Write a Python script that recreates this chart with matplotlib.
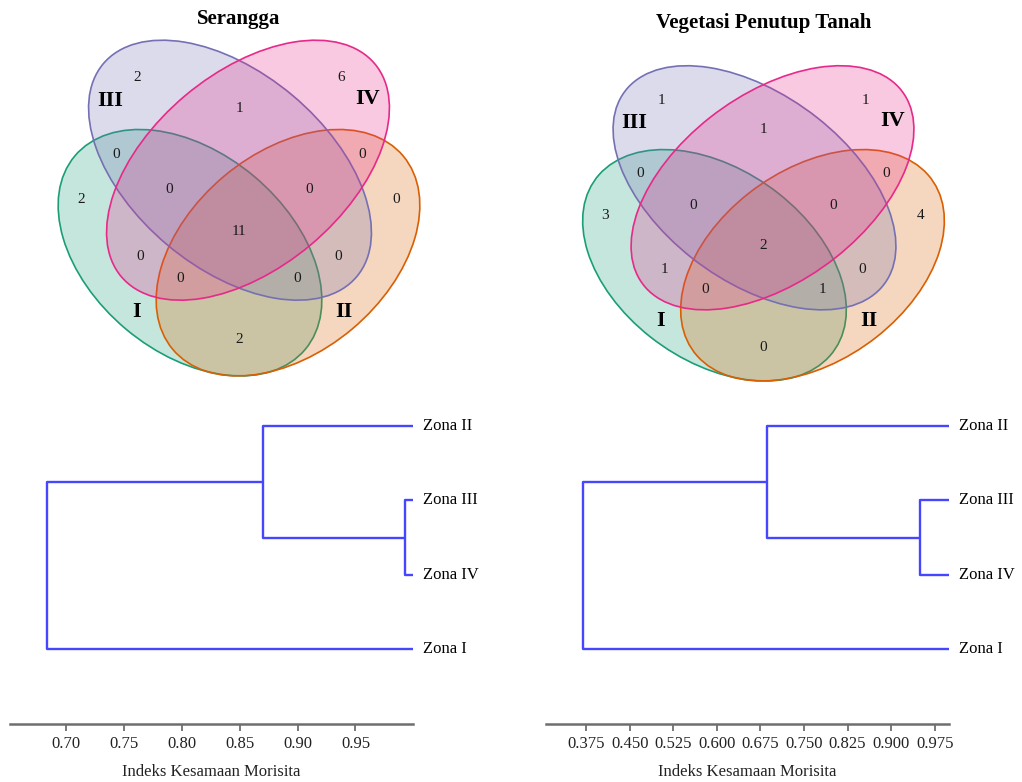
import numpy as np
import matplotlib.pyplot as plt
from matplotlib.patches import Ellipse
from matplotlib.colors import to_rgba

plt.rcParams['font.family'] = ['Liberation Serif', 'DejaVu Serif']

# Data
set_names = ['I', 'II', 'III', 'IV']
set_colors = ['#1b9e77', '#d95f02', '#7570b3', '#e7298a']
venn_titles = ['Serangga', 'Vegetasi Penutup Tanah']

# region keys (which zones share the species)
region_keys = ['III', 'IV', 'III-IV', 'I-III', 'II-IV', 'I', 'II',
               'I-III-IV', 'II-III-IV', 'I-II-III-IV', 'I-IV', 'II-III',
               'I-II-IV', 'I-II-III', 'I-II']
serangga_counts = [2, 6, 1, 0, 0, 2, 0, 0, 0, 11, 0, 0, 0, 0, 2]
vegetasi_counts = [1, 1, 1, 0, 0, 3, 4, 0, 0, 2, 1, 0, 0, 1, 0]

# dendrogram: leaves top->bottom, merges scipy style (index >= 4 is a cluster)
leaf_labels = ['Zona II', 'Zona III', 'Zona IV', 'Zona I']
merge_pairs = [(1, 2), (0, 4), (3, 5)]
serangga_heights = [0.9925, 0.870, 0.683]
vegetasi_heights = [0.949, 0.6865, 0.370]
serangga_xlim = (0.6512, 1.0)
vegetasi_xlim = (0.306, 1.0)
serangga_ticks = [0.70, 0.75, 0.80, 0.85, 0.90, 0.95]
vegetasi_ticks = [0.375, 0.450, 0.525, 0.600, 0.675, 0.750, 0.825, 0.900, 0.975]

W, H = 1022, 782
fig = plt.figure(figsize=(W / 100, H / 100), dpi=100)


def px_axes(x0, y0, x1, y1):
    # pixel box (y from top) -> figure axes
    return fig.add_axes([x0 / W, 1 - y1 / H, (x1 - x0) / W, (y1 - y0) / H])


# layout of the 4-ellipse venn (pixel units relative to centre, y down)
ell_geom = [((-49, 45), 300.8, 199.4, 40),
            ((49, 45), 300.8, 199.4, -40),
            ((-9, -37.5), 331, 195, 40),
            ((9, -37.5), 331, 195, -40)]
region_pos = {'III': (-102, -130.4), 'IV': (102, -130.4), 'III-IV': (0, -99.4),
              'I-III': (-123, -52.7), 'II-IV': (123, -52.7),
              'I': (-158, -7.7), 'II': (157.5, -7.7),
              'I-III-IV': (-70, -18.4), 'II-III-IV': (70, -18.4),
              'I-II-III-IV': (0, 24), 'I-IV': (-99, 49), 'II-III': (99, 49),
              'I-II-IV': (-58.5, 70.6), 'I-II-III': (58.5, 70.6), 'I-II': (0, 132.3)}
label_pos = [(-102.5, 104.6), (105, 104.6), (-129, -106.5), (129, -108.5)]


def draw_venn(ax, counts, title, title_y):
    ax.set_xlim(-200, 200)
    ax.set_ylim(190, -200)
    ax.axis('off')
    for (c, w, h, ang), col in zip(ell_geom, set_colors):
        ax.add_patch(Ellipse(c, w, h, angle=ang, facecolor=to_rgba(col, 0.25),
                             edgecolor=col, lw=1.2))
    for key, n in zip(region_keys, counts):
        x, y = region_pos[key]
        ax.text(x, y, str(n), fontsize=11, ha='center', va='center', color='#1a1a1a')
    for name, (x, y) in zip(set_names, label_pos):
        ax.text(x, y, name, fontsize=16, fontweight='bold', ha='center', va='center')
    ax.text(0, title_y, title, fontsize=15, fontweight='bold', ha='center', va='center')


ax1 = px_axes(39, 7.7, 439, 397.7)
draw_venn(ax1, serangga_counts, venn_titles[0], -188.7)
s = 0.939
ax2 = px_axes(563.5, 223 - 200 * s, 963.5, 223 + 190 * s)
draw_venn(ax2, vegetasi_counts, venn_titles[1], -213)


def draw_dendro(ax, heights, xlim, ticks, fmt):
    n = len(leaf_labels)
    ypos = {i: float(i) for i in range(n)}
    xpos = {i: 1.0 for i in range(n)}
    for k, ((a, b), h) in enumerate(zip(merge_pairs, heights)):
        ax.plot([xpos[a], h, h, xpos[b]], [ypos[a], ypos[a], ypos[b], ypos[b]],
                color='#4646ff', lw=1.7, solid_capstyle='butt')
        ypos[n + k] = (ypos[a] + ypos[b]) / 2
        xpos[n + k] = h
    for i, lab in enumerate(leaf_labels):
        ax.annotate(lab, xy=(1.0, i), xytext=(7, 0), textcoords='offset points',
                    fontsize=12, va='center', ha='left', annotation_clip=False)
    ax.set_xlim(*xlim)
    ax.set_ylim(4.0, -0.5)
    for sp in ['top', 'right', 'left']:
        ax.spines[sp].set_visible(False)
    ax.spines['bottom'].set_color('#6e6e6e')
    ax.spines['bottom'].set_linewidth(1.8)
    ax.set_yticks([])
    ax.set_xticks(ticks)
    ax.set_xticklabels([fmt % t for t in ticks])
    ax.tick_params(axis='x', colors='#6e6e6e', labelcolor='#222222', labelsize=12,
                   length=5, width=1.3, pad=4)
    ax.set_xlabel('Indeks Kesamaan Morisita', fontsize=12, labelpad=8, color='#222222')
    ax.patch.set_alpha(0)


ax3 = px_axes(10, 388.3, 413.3, 724)
draw_dendro(ax3, serangga_heights, serangga_xlim, serangga_ticks, '%.2f')
ax4 = px_axes(546, 388.3, 949.3, 724)
draw_dendro(ax4, vegetasi_heights, vegetasi_xlim, vegetasi_ticks, '%.3f')

fig.savefig('out.png', dpi=100)
